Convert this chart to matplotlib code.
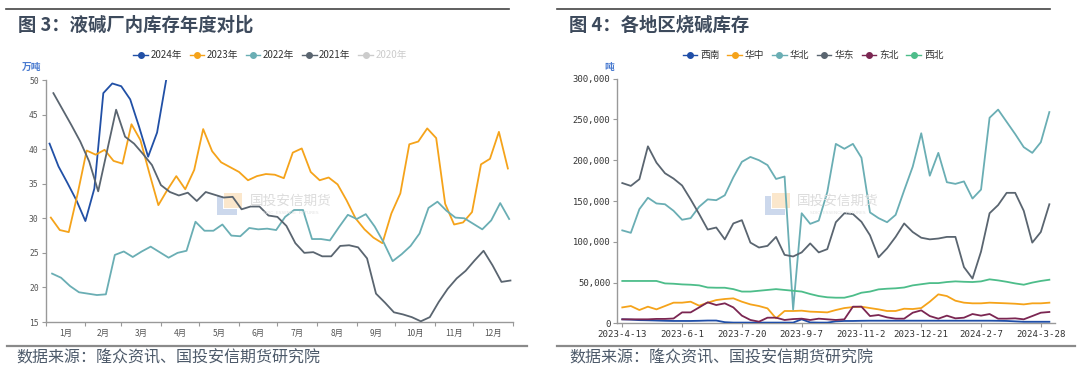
import matplotlib
matplotlib.use('Agg')
import matplotlib.pyplot as plt
from matplotlib.lines import Line2D
from matplotlib.patches import Rectangle
import numpy as np
import pandas as pd

plt.rcParams['font.family'] = ['Noto Sans CJK SC', 'DejaVu Sans']

# ---------------- data: left chart (万吨, weekly) ----------------
series_names = ['2024年', '2023年', '2022年', '2021年', '2020年']
start_dates = ['2024-01-04', '2023-01-05', '2022-01-06', '2021-01-07']
v2024 = [40.8, 37.5, 35.1, 32.6, 29.6, 34.3, 48.1, 49.5, 49.1, 47.2, 43.2, 38.9, 42.4, 49.9]
v2023 = [30.1, 28.3, 28.0, 33.6, 39.8, 39.2, 39.9, 38.3, 37.9, 43.6,
         41.3, 36.5, 31.9, 34.1, 36.1, 34.2, 37.0, 42.9, 39.7, 38.1,
         37.4, 36.7, 35.5, 36.1, 36.4, 36.3, 35.8, 39.5, 40.1, 36.7,
         35.5, 35.9, 34.9, 32.6, 30.0, 28.4, 27.2, 26.4, 30.7, 33.6,
         40.7, 41.1, 43.0, 41.6, 32.1, 29.1, 29.4, 30.9, 37.8, 38.6,
         42.5, 37.2]
v2022 = [22.0, 21.4, 20.2, 19.3, 19.1, 18.9, 19.0, 24.7, 25.2, 24.4,
         25.2, 25.9, 25.1, 24.3, 25.0, 25.3, 29.5, 28.2, 28.2, 29.1,
         27.5, 27.4, 28.6, 28.4, 28.5, 28.3, 30.2, 31.2, 31.2, 27.0,
         27.0, 26.8, 28.7, 30.5, 29.9, 30.6, 28.8, 26.5, 23.8, 24.8,
         26.0, 27.8, 31.5, 32.4, 31.1, 30.1, 30.0, 29.2, 28.4, 29.7,
         32.2, 29.9]
v2021 = [48.1, 45.8, 43.5, 41.1, 38.2, 33.9, 39.8, 45.7, 41.8, 40.8,
         39.3, 37.7, 34.8, 33.8, 33.3, 33.7, 32.5, 33.8, 33.4, 33.0,
         33.1, 31.3, 31.7, 31.7, 30.4, 30.2, 28.9, 26.4, 25.0, 25.1,
         24.5, 24.5, 26.0, 26.1, 25.8, 24.2, 19.1, 17.8, 16.4, 16.1,
         15.7, 15.1, 15.7, 17.9, 19.8, 21.3, 22.4, 23.9, 25.3, 23.2,
         20.8, 21.0]
month_labels = ['1月', '2月', '3月', '4月', '5月', '6月', '7月', '8月', '9月', '10月', '11月', '12月']

# ---------------- data: right chart (吨, weekly) ----------------
region_names = ['西南', '华中', '华北', '华东', '东北', '西北']
dates = ['2023-4-13', '2023-4-20', '2023-4-27', '2023-5-4', '2023-5-11', '2023-5-18', '2023-5-25',
         '2023-6-1', '2023-6-8', '2023-6-15', '2023-6-21', '2023-6-29', '2023-7-6', '2023-7-13',
         '2023-7-20', '2023-7-27', '2023-8-3', '2023-8-10', '2023-8-17', '2023-8-24', '2023-8-31',
         '2023-9-7', '2023-9-14', '2023-9-21', '2023-9-28', '2023-10-12', '2023-10-19', '2023-10-26',
         '2023-11-2', '2023-11-9', '2023-11-16', '2023-11-23', '2023-11-30', '2023-12-7', '2023-12-14',
         '2023-12-21', '2023-12-28', '2024-1-4', '2024-1-11', '2024-1-18', '2024-1-25', '2024-2-1',
         '2024-2-7', '2024-2-19', '2024-2-22', '2024-2-29', '2024-3-7', '2024-3-14', '2024-3-21',
         '2024-3-28', '2024-4-3']
xinan = [5, 4.6, 4, 3.8, 3.5, 3.2, 3, 3, 3, 3.2,
         3.5, 3.5, 1.5, 1, 1, 1, 1, 1, 1, 1,
         1, 5, 1.2, 1, 1, 2.5, 3, 3, 3.2, 3.3,
         3.3, 3.3, 3.3, 3.3, 3.3, 3.3, 3.3, 3.3, 3.3, 3.3,
         3.3, 3.3, 3.3, 3.3, 3.2, 3, 2.5, 2, 2, 2, 2]
huazhong = [19.6, 21.3, 16.4, 20.5, 17.2, 21.3, 25.4, 25.4, 26.6, 21.7,
            25.4, 28.6, 29.9, 30.7, 26.6, 23.3, 21.3, 18.4, 6.2, 15.2,
            15.2, 15.6, 14.4, 14.0, 13.5, 16.4, 18.8, 20.0, 20.5, 18.8,
            17.2, 15.2, 15.2, 18.0, 17.6, 18.8, 26.6, 35.6, 33.5, 27.8,
            25.4, 24.6, 24.6, 25.4, 25.0, 24.6, 24.1, 23.3, 24.6, 24.6, 25.4]
huabei = [114, 111, 140, 154, 147, 146, 138, 127, 129, 143,
          152, 151, 157, 179, 198, 204, 200, 194, 177, 180,
          17, 135, 122, 126, 161, 220, 214, 220, 203, 136,
          129, 124, 133, 163, 192, 233, 181, 209, 173, 171,
          174, 153, 164, 252, 262, 247, 232, 216, 209, 222, 259]
huadong = [172, 168.5, 176.7, 217, 197, 184, 177.5, 169, 152, 134,
           115, 117.5, 103, 122.5, 126.5, 99, 93, 95, 106, 84,
           82, 87, 98, 87, 91, 124, 135, 134, 124.5, 108,
           81, 92, 106, 122.5, 112, 105, 103, 104, 106, 106,
           69, 55, 88, 135, 145, 160, 160, 138, 99, 112, 146]
dongbei = [5, 5, 5, 5, 5.5, 5.5, 6, 13.5, 13.5, 19.6,
           25.8, 22.5, 24.6, 19.6, 9.5, 4.2, 2.1, 7, 7, 4.2,
           5.3, 5.8, 4.2, 5.8, 5, 4.2, 5, 20.5, 20.5, 9,
           10.3, 7.4, 5.8, 5.8, 13.1, 16, 9, 5.8, 9.5, 6.2,
           7, 11.5, 9.5, 11.5, 5.8, 5.8, 6.2, 5, 9, 13.1, 14]
xibei = [52, 52, 52, 52, 52, 49, 48.6, 47.8, 47.4, 46.6,
         44, 43.7, 43.7, 42, 39, 39, 40, 41, 42, 41,
         40, 39, 36, 33.5, 32, 31.5, 31.5, 34, 37.6, 39,
         41.7, 42.5, 43, 44, 46.6, 48, 49.4, 49.4, 50.7, 51.5,
         51, 50.7, 51.5, 54, 52.7, 51, 49, 47.4, 50, 52, 53.5]

# ---------------- styles ----------------
left_colors = ['#2150a6', '#f5a31a', '#6aaeb4', '#5a6570', '#cccccc']
right_colors = ['#1f4ea8', '#f5a31a', '#6aaeb4', '#5a6570', '#7b2652', '#4dbd8a']
W, H = 1080, 373


def fx(x):
    return x / W


def fy(y):
    return 1 - y / H


fig = plt.figure(figsize=(W / 100, H / 100), dpi=100)
fig.patch.set_facecolor('white')


def watermark(icon_x, text_x):
    fig.add_artist(Rectangle((fx(icon_x + 7), fy(208)), 18 / W, 15 / H, transform=fig.transFigure,
                             color='#fbe7cc', lw=0, zorder=0))
    fig.add_artist(Rectangle((fx(icon_x), fy(215)), 6 / W, 19 / H, transform=fig.transFigure,
                             color='#ccd8ec', lw=0, zorder=0))
    fig.add_artist(Rectangle((fx(icon_x), fy(215)), 20 / W, 6 / H, transform=fig.transFigure,
                             color='#ccd8ec', lw=0, zorder=0))
    fig.text(fx(text_x), fy(201), '国投安信期货', fontsize=9.8, color='#dcdcdc', va='center',
             ha='left', zorder=0)
    fig.text(fx(text_x + 41), fy(213), 'SDIC  ESSENCE  FUTURES', fontsize=3.2, color='#e2e2e2',
             va='center', ha='center', family='DejaVu Sans', zorder=0)


watermark(217, 250)
watermark(765, 797)

# frame lines
for x0, x1 in [(6, 509), (557, 1050)]:
    fig.add_artist(Line2D([fx(x0), fx(x1)], [fy(9.3), fy(9.3)], transform=fig.transFigure,
                          color='#444444', lw=1.2))
for x0, x1 in [(7, 527), (557, 1075)]:
    fig.add_artist(Line2D([fx(x0), fx(x1)], [fy(345.5), fy(345.5)], transform=fig.transFigure,
                          color='#8a8a8a', lw=1.6))

# titles
title_col = '#3d4a5c'
fig.text(fx(18), fy(25), '图 3：液碱厂内库存年度对比', fontsize=13.2, weight='bold', color=title_col,
         va='center', ha='left')
fig.text(fx(569), fy(25), '图 4：各地区烧碱库存', fontsize=13.2, weight='bold', color=title_col,
         va='center', ha='left')
src_col = '#4d5a6a'
fig.text(fx(16), fy(358), '数据来源：隆众资讯、国投安信期货研究院', fontsize=11.5, color=src_col,
         va='center', ha='left')
fig.text(fx(569), fy(358), '数据来源：隆众资讯、国投安信期货研究院', fontsize=11.5, color=src_col,
         va='center', ha='left')

unit_col = '#4a7bd0'
fig.text(fx(31.7), fy(67), '万吨', fontsize=7, color=unit_col, ha='center', va='center', weight='bold')
fig.text(fx(609.5), fy(67), '吨', fontsize=7, color=unit_col, ha='center', va='center', weight='bold')

axis_col = '#999999'
tick_col = '#555555'

# ---------------- left chart ----------------
ax1 = fig.add_axes([fx(45.7), fy(322), (513 - 45.7) / W, (322 - 80) / H])
ax1.set_facecolor('none')
values = [v2024, v2023, v2022, v2021]
for name, start, vals, col in zip(series_names, start_dates, values, left_colors):
    d = pd.date_range(start, periods=len(vals), freq='7D')
    x = (d - pd.Timestamp(year=d[0].year, month=1, day=1)).days
    ax1.plot(x, vals, color=col, lw=1.3, zorder=3)

ax1.set_xlim(0, 365)
ax1.set_ylim(15, 50)
month_starts = pd.date_range('2023-01-01', periods=13, freq='MS')
bounds = np.array((month_starts - pd.Timestamp('2023-01-01')).days)
ax1.set_xticks(bounds)
ax1.set_xticklabels([])
ax1.set_xticks((bounds[:-1] + bounds[1:]) / 2, minor=True)
ax1.set_xticklabels(month_labels, minor=True, fontsize=6, color=tick_col)
ax1.tick_params(axis='x', which='major', length=3, color=axis_col, width=0.8)
ax1.tick_params(axis='x', which='minor', length=0, pad=5)
ax1.set_yticks(np.arange(15, 51, 5))
ax1.set_yticklabels([str(v) for v in range(15, 51, 5)], family='DejaVu Sans Mono', fontsize=5.8,
                    color=tick_col)
ax1.tick_params(axis='y', length=3, color=axis_col, width=0.8, pad=2)
for s in ['top', 'right']:
    ax1.spines[s].set_visible(False)
for s in ['left', 'bottom']:
    ax1.spines[s].set_color(axis_col)
    ax1.spines[s].set_linewidth(1.0)

handles = [Line2D([], [], color=c, lw=1, marker='o', markersize=4) for c in left_colors]
leg1 = fig.legend(handles, series_names, loc='center', bbox_to_anchor=(fx(270), fy(55)), ncol=5,
                  frameon=False, fontsize=7, handlelength=1.5, handletextpad=0.25, columnspacing=0.8,
                  borderpad=0)
for t, c in zip(leg1.get_texts(), ['#333333'] * 4 + ['#cccccc']):
    t.set_color(c)

# ---------------- right chart ----------------
ax2 = fig.add_axes([fx(617.3), fy(323.4), (1055 - 617.3) / W, (323.4 - 78.6) / H])
ax2.set_facecolor('none')
idx = np.arange(len(dates))
region_vals = [xinan, huazhong, huabei, huadong, dongbei, xibei]
for name, vals, col in zip(region_names, region_vals, right_colors):
    ax2.plot(idx, np.array(vals) * 1000, color=col, lw=1.3, zorder=3)
ax2.set_xlim(-0.585, 50.66)
ax2.set_ylim(0, 300000)
lab_idx = idx[::7]
ax2.set_xticks(lab_idx)
ax2.set_xticklabels([dates[i] for i in lab_idx], family='DejaVu Sans Mono', fontsize=6.6, color='#333333')
ax2.tick_params(axis='x', length=3, color=axis_col, width=0.8, pad=2)
ax2.set_yticks(np.arange(0, 300001, 50000))
ax2.set_yticklabels(['{:,}'.format(v) for v in range(0, 300001, 50000)], family='DejaVu Sans Mono',
                    fontsize=6.4, color='#333333')
ax2.tick_params(axis='y', length=3, color=axis_col, width=0.8, pad=2)
for s in ['top', 'right']:
    ax2.spines[s].set_visible(False)
for s in ['left', 'bottom']:
    ax2.spines[s].set_color(axis_col)
    ax2.spines[s].set_linewidth(1.0)

handles2 = [Line2D([], [], color=c, lw=1, marker='o', markersize=4) for c in right_colors]
leg2 = fig.legend(handles2, region_names, loc='center', bbox_to_anchor=(fx(813), fy(55)), ncol=6,
                  frameon=False, fontsize=7, handlelength=1.5, handletextpad=0.3, columnspacing=0.8,
                  borderpad=0)
for t in leg2.get_texts():
    t.set_color('#333333')

fig.savefig('out.png', dpi=100, facecolor='white')
